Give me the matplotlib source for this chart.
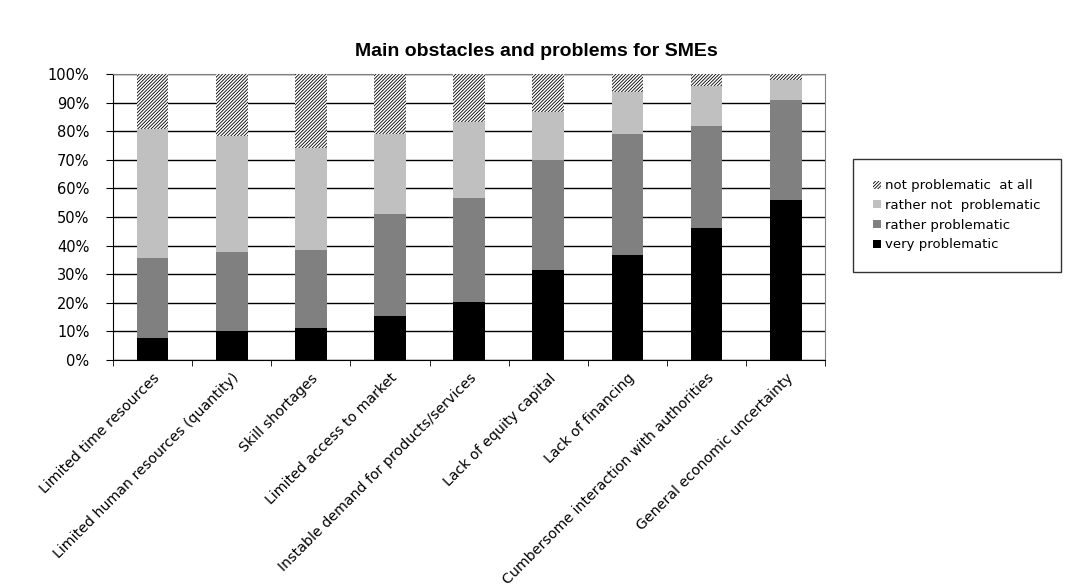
import numpy as np
import matplotlib.pyplot as plt

plt.rcParams['font.family'] = ['DejaVu Sans']
plt.rcParams['hatch.linewidth'] = 0.6

categories = ["Limited time resources", "Limited human resources (quantity)",
              "Skill shortages", "Limited access to market",
              "Instable demand for products/services", "Lack of equity capital",
              "Lack of financing", "Cumbersome interaction with authorities",
              "General economic uncertainty"]
# cumulative levels (%)
very = [7.8, 10.2, 11.3, 15.2, 20.1, 31.3, 36.8, 46.3, 56.1]
cum_rather = [35.8, 37.8, 38.3, 51.1, 56.8, 70.1, 79.2, 81.7, 91.1]
cum_rather_not = [80.7, 78.4, 74.3, 79.1, 83.4, 86.9, 93.9, 95.7, 97.8]

very = np.array(very)
rather = np.array(cum_rather) - very
rather_not = np.array(cum_rather_not) - np.array(cum_rather)
not_at_all = 100 - np.array(cum_rather_not)

fig = plt.figure(figsize=(10.72, 5.88), dpi=100)
ax = fig.add_axes([0.1054, 0.388, 0.6645, 0.486])
x = np.arange(len(categories))
w = 0.4

ax.bar(x, very, w, color="black", label="very problematic", zorder=3)
ax.bar(x, rather, w, bottom=very, color="#808080", label="rather problematic", zorder=3)
ax.bar(x, rather_not, w, bottom=very + rather, color="#c0c0c0",
       label="rather not  problematic", zorder=3)
ax.bar(x, not_at_all, w, bottom=very + rather + rather_not, color="white",
       edgecolor="black", linewidth=0, hatch="//////////", label="not problematic  at all", zorder=3)

ax.set_xlim(-0.5, len(categories) - 0.5)
ax.set_ylim(0, 100)
ax.set_yticks(np.arange(0, 101, 10))
ax.set_yticklabels([f"{v}%" for v in range(0, 101, 10)], fontsize=10.5)
ax.yaxis.grid(True, color="black", linewidth=1, zorder=0)
ax.tick_params(axis="y", direction="out", length=5, color="black", pad=12)

ax.set_xticks(x)
ax.set_xticklabels(categories, rotation=45, ha="right", rotation_mode="anchor", fontsize=10.2)
ax.tick_params(axis="x", which="major", length=0, pad=8)
ax.set_xticks(np.arange(-0.5, len(categories), 1), minor=True)
ax.tick_params(axis="x", which="minor", direction="out", length=4, color="black")

for side in ["top", "right"]:
    ax.spines[side].set_color("#808080")
ax.spines["left"].set_color("black")
ax.spines["bottom"].set_color("black")

handles, labels = ax.get_legend_handles_labels()
leg = fig.legend(handles[::-1], labels[::-1], loc="upper left",
                 bbox_to_anchor=(0.7957, 0.7296), fontsize=9.5, frameon=True,
                 fancybox=False, edgecolor="black", handlelength=0.55,
                 handleheight=0.55, handletextpad=0.35, labelspacing=0.5,
                 borderpad=1.55, borderaxespad=0)
leg.get_frame().set_linewidth(1)

fig.text(0.5, 0.912, "Main obstacles and problems for SMEs", ha="center",
         va="center", fontsize=14, fontweight="bold", family="Liberation Sans")

fig.savefig("out.png", dpi=100)
